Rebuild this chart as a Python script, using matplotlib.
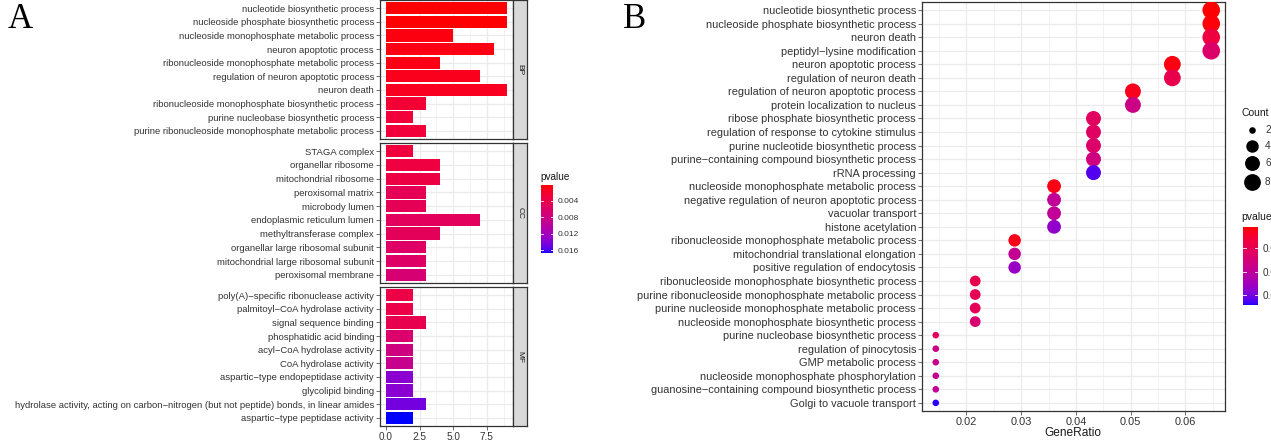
import numpy as np
import matplotlib
matplotlib.use("Agg")
import matplotlib.pyplot as plt
from matplotlib.colors import ListedColormap, Normalize
from matplotlib.lines import Line2D

# ---------------- data ----------------
bp_terms = ["nucleotide biosynthetic process", "nucleoside phosphate biosynthetic process",
            "nucleoside monophosphate metabolic process", "neuron apoptotic process",
            "ribonucleoside monophosphate metabolic process", "regulation of neuron apoptotic process",
            "neuron death", "ribonucleoside monophosphate biosynthetic process",
            "purine nucleobase biosynthetic process", "purine ribonucleoside monophosphate metabolic process"]
bp_counts = [9, 9, 5, 8, 4, 7, 9, 3, 2, 3]
bp_pvalues = [0.0002, 0.0002, 0.0005, 0.0007, 0.0008, 0.0011, 0.0013, 0.0024, 0.0028, 0.0028]

cc_terms = ["STAGA complex", "organellar ribosome", "mitochondrial ribosome", "peroxisomal matrix",
            "microbody lumen", "endoplasmic reticulum lumen", "methyltransferase complex",
            "organellar large ribosomal subunit", "mitochondrial large ribosomal subunit",
            "peroxisomal membrane"]
cc_counts = [2, 4, 4, 3, 3, 7, 4, 3, 3, 3]
cc_pvalues = [0.003, 0.0032, 0.0034, 0.0047, 0.0047, 0.0052, 0.0049, 0.0057, 0.0057, 0.0068]

mf_terms = ["poly(A)\u2212specific ribonuclease activity", "palmitoyl\u2212CoA hydrolase activity",
            "signal sequence binding", "phosphatidic acid binding", "acyl\u2212CoA hydrolase activity",
            "CoA hydrolase activity", "aspartic\u2212type endopeptidase activity", "glycolipid binding",
            "hydrolase activity, acting on carbon\u2212nitrogen (but not peptide) bonds, in linear amides",
            "aspartic\u2212type peptidase activity"]
mf_counts = [2, 2, 3, 2, 2, 2, 2, 2, 3, 2]
mf_pvalues = [0.0035, 0.0038, 0.0042, 0.0062, 0.0077, 0.0087, 0.0135, 0.0135, 0.0145, 0.0167]

a_plimits = [0.0001, 0.0167]
a_pticks = [0.004, 0.008, 0.012, 0.016]
a_xticks = [0.0, 2.5, 5.0, 7.5]
a_xticklabels = ["0.0", "2.5", "5.0", "7.5"]

b_terms = ["nucleotide biosynthetic process", "nucleoside phosphate biosynthetic process", "neuron death",
           "peptidyl\u2212lysine modification", "neuron apoptotic process", "regulation of neuron death",
           "regulation of neuron apoptotic process", "protein localization to nucleus",
           "ribose phosphate biosynthetic process", "regulation of response to cytokine stimulus",
           "purine nucleotide biosynthetic process", "purine\u2212containing compound biosynthetic process",
           "rRNA processing", "nucleoside monophosphate metabolic process",
           "negative regulation of neuron apoptotic process", "vacuolar transport", "histone acetylation",
           "ribonucleoside monophosphate metabolic process", "mitochondrial translational elongation",
           "positive regulation of endocytosis", "ribonucleoside monophosphate biosynthetic process",
           "purine ribonucleoside monophosphate metabolic process",
           "purine nucleoside monophosphate metabolic process",
           "nucleoside monophosphate biosynthetic process", "purine nucleobase biosynthetic process",
           "regulation of pinocytosis", "GMP metabolic process", "nucleoside monophosphate phosphorylation",
           "guanosine\u2212containing compound biosynthetic process", "Golgi to vacuole transport"]
b_generatio = [0.0647, 0.0647, 0.0647, 0.0647, 0.0576, 0.0576, 0.0504, 0.0504,
               0.0432, 0.0432, 0.0432, 0.0432, 0.0432, 0.0360, 0.0360, 0.0360, 0.0360,
               0.0288, 0.0288, 0.0288, 0.0216, 0.0216, 0.0216, 0.0216,
               0.0144, 0.0144, 0.0144, 0.0144, 0.0144, 0.0144]
b_counts = [9, 9, 9, 9, 8, 8, 7, 7, 6, 6, 6, 6, 6, 5, 5, 5, 5, 4, 4, 4, 3, 3, 3, 3, 2, 2, 2, 2, 2, 2]
b_pvalues = [0.0006, 0.0007, 0.0035, 0.0065, 0.001, 0.0045, 0.0015, 0.0085, 0.0058, 0.006, 0.0065, 0.0082,
             0.016, 0.0012, 0.0098, 0.0098, 0.0135, 0.0013, 0.0095, 0.013, 0.0045, 0.005, 0.0052,
             0.007, 0.0055, 0.0085, 0.009, 0.0095, 0.0095, 0.0168]
b_plimits = [0.0005, 0.0171]
b_pticks = [0.005, 0.010, 0.015]
b_xticks = [0.02, 0.03, 0.04, 0.05, 0.06]
b_xticklabels = ["0.02", "0.03", "0.04", "0.05", "0.06"]
count_breaks = [2, 4, 6, 8]
count_limits = [2, 9]

# ---------------- colour scale (red -> blue in CIELAB, like ggplot) ----------------
_M = np.array([[0.4124564, 0.3575761, 0.1804375],
               [0.2126729, 0.7151522, 0.0721750],
               [0.0193339, 0.1191920, 0.9503041]])
_Minv = np.linalg.inv(_M)
_white = _M @ np.ones(3)


def _to_lab(rgb):
    c = np.asarray(rgb, float)
    lin = np.where(c <= 0.04045, c / 12.92, ((c + 0.055) / 1.055) ** 2.4)
    xyz = (_M @ lin) / _white
    d = 6 / 29
    f = np.where(xyz > d ** 3, np.cbrt(xyz), xyz / (3 * d * d) + 4 / 29)
    return np.array([116 * f[1] - 16, 500 * (f[0] - f[1]), 200 * (f[1] - f[2])])


def _from_lab(lab):
    L, a, b = lab
    fy = (L + 16) / 116
    fx = fy + a / 500
    fz = fy - b / 200
    d = 6 / 29
    f = np.array([fx, fy, fz])
    xyz = np.where(f > d, f ** 3, 3 * d * d * (f - 4 / 29)) * _white
    lin = np.clip(_Minv @ xyz, 0, 1)
    return np.clip(np.where(lin <= 0.0031308, 12.92 * lin, 1.055 * lin ** (1 / 2.4) - 0.055), 0, 1)


_l0, _l1 = _to_lab([1, 0, 0]), _to_lab([0, 0, 1])
cmap = ListedColormap([_from_lab(_l0 + t * (_l1 - _l0)) for t in np.linspace(0, 1, 256)])

# ---------------- figure ----------------
W, H = 1271, 440
fig = plt.figure(figsize=(W / 100, H / 100), dpi=100)
plt.rcParams['font.family'] = ['Liberation Sans', 'DejaVu Sans']


def ax_px(l, t, r, b):
    return fig.add_axes([l / W, 1 - b / H, (r - l) / W, (b - t) / H])


TXT = "#333333"
BORDER = "#333333"
GRID = "#EBEBEB"

# ---------------- Panel A ----------------
a_norm = Normalize(a_plimits[0], a_plimits[1])
panels = [("BP", bp_terms, bp_counts, bp_pvalues, 0, 139),
          ("CC", cc_terms, cc_counts, cc_pvalues, 143, 283),
          ("MF", mf_terms, mf_counts, mf_pvalues, 287, 426)]
xmax_all = max(max(bp_counts), max(cc_counts), max(mf_counts))
for i, (strip, terms, counts, pv, top, bot) in enumerate(panels):
    ax = ax_px(380, top, 513, bot)
    n = len(terms)
    y = np.arange(n)
    ax.barh(y, counts, height=0.9, color=cmap(a_norm(np.array(pv))), zorder=3)
    ax.set_ylim(n - 0.4, -0.6)
    ax.set_xlim(-0.05 * xmax_all, xmax_all * 1.05)
    ax.set_yticks(y)
    ax.set_yticklabels(terms, fontsize=6.8, color=TXT)
    ax.set_xticks(a_xticks)
    ax.set_xticks([1.25, 3.75, 6.25, 8.75], minor=True)
    if i == 2:
        ax.set_xticklabels(a_xticklabels, fontsize=7.2, color=TXT)
    else:
        ax.set_xticklabels([])
    ax.tick_params(axis='both', which='major', length=2.75, width=0.5, color=BORDER, pad=1.5)
    ax.tick_params(axis='x', which='minor', length=0)
    if i != 2:
        ax.tick_params(axis='x', which='both', length=0)
    ax.grid(True, which='major', color=GRID, lw=0.9, zorder=0)
    ax.grid(True, which='minor', axis='x', color=GRID, lw=0.45, zorder=0)
    ax.set_axisbelow(True)
    for s in ax.spines.values():
        s.set_color(BORDER)
        s.set_linewidth(0.9)
    sax = ax_px(513, top, 527, bot)
    sax.set_facecolor("#D9D9D9")
    sax.set_xticks([])
    sax.set_yticks([])
    for s in sax.spines.values():
        s.set_color(BORDER)
        s.set_linewidth(0.9)
    sax.text(0.5, 0.5, strip, rotation=-90, ha='center', va='center', fontsize=6,
             color="#1A1A1A", transform=sax.transAxes)

# Panel A legend
fig.text(540 / W, 1 - 177 / H, "pvalue", fontsize=7.2, color="#1A1A1A", ha='left', va='center')
cax = ax_px(541, 185, 553, 253)
yy = np.linspace(a_plimits[0], a_plimits[1], 256)
cax.pcolormesh([0, 1], yy, yy[:-1, None], cmap=cmap, norm=a_norm, shading='flat')
cax.set_ylim(a_plimits[1], a_plimits[0])
cax.set_xlim(0, 1)
cax.set_xticks([])
cax.yaxis.tick_right()
cax.set_yticks(a_pticks)
cax.set_yticklabels([f"{t:.3f}" for t in a_pticks], fontsize=6, color=TXT)
cax.tick_params(axis='y', length=0, pad=3)
for t in a_pticks:
    cax.plot([0, 0.2], [t, t], color='white', lw=0.6)
    cax.plot([0.8, 1], [t, t], color='white', lw=0.6)
for s in cax.spines.values():
    s.set_visible(False)

# ---------------- Panel B ----------------
b_norm = Normalize(b_plimits[0], b_plimits[1])


def count_to_s(c):
    size = 3 + 5 * np.sqrt((np.asarray(c, float) - count_limits[0]) / (count_limits[1] - count_limits[0]))
    d_px = 2.2 * size
    return (d_px * 72 / 100) ** 2


bx = ax_px(922, 2, 1225, 411)
nb = len(b_terms)
yb = np.arange(nb)
bx.scatter(b_generatio, yb, s=count_to_s(b_counts), c=cmap(b_norm(np.array(b_pvalues))),
           linewidths=0, zorder=3)
bx.set_ylim(nb - 0.4, -0.6)
gmin, gmax = min(b_generatio), max(b_generatio)
span = gmax - gmin
bx.set_xlim(gmin - 0.05 * span, gmax + 0.05 * span)
bx.set_yticks(yb)
bx.set_yticklabels(b_terms, fontsize=7.9, color=TXT)
bx.set_xticks(b_xticks)
bx.set_xticklabels(b_xticklabels, fontsize=7.9, color=TXT)
bx.set_xticks([0.015, 0.025, 0.035, 0.045, 0.055, 0.065], minor=True)
bx.tick_params(axis='both', which='major', length=2.75, width=0.5, color=BORDER, pad=1.5)
bx.tick_params(axis='x', which='minor', length=0)
bx.grid(True, which='major', color=GRID, lw=0.9, zorder=0)
bx.grid(True, which='minor', axis='x', color=GRID, lw=0.45, zorder=0)
bx.set_axisbelow(True)
for s in bx.spines.values():
    s.set_color(BORDER)
    s.set_linewidth(0.9)
fig.text(1073 / W, 1 - 433 / H, "GeneRatio", fontsize=8.6, color="#1A1A1A", ha='center', va='center')

# Count legend
fig.text(1241 / W, 1 - 113 / H, "Count", fontsize=7.5, color="#1A1A1A", ha='left', va='center')
leg_y = [130, 146, 163, 182]
for c, yl in zip(count_breaks, leg_y):
    fig.add_artist(Line2D([1252 / W], [1 - yl / H], marker='o', linestyle='None',
                          markersize=np.sqrt(count_to_s(c)), color='black',
                          markeredgewidth=0, transform=fig.transFigure))
    fig.text(1265 / W, 1 - yl / H, str(c), fontsize=7.2, color=TXT, ha='left', va='center')

# pvalue legend B
fig.text(1241 / W, 1 - 217 / H, "pvalue", fontsize=7.5, color="#1A1A1A", ha='left', va='center')
cbx = ax_px(1243, 227, 1258, 305)
yy2 = np.linspace(b_plimits[0], b_plimits[1], 256)
cbx.pcolormesh([0, 1], yy2, yy2[:-1, None], cmap=cmap, norm=b_norm, shading='flat')
cbx.set_ylim(b_plimits[1], b_plimits[0])
cbx.set_xlim(0, 1)
cbx.set_xticks([])
cbx.yaxis.tick_right()
cbx.set_yticks(b_pticks)
cbx.set_yticklabels([f"{t:.3f}" for t in b_pticks], fontsize=7.2, color=TXT)
cbx.tick_params(axis='y', length=0, pad=3)
for t in b_pticks:
    cbx.plot([0, 0.2], [t, t], color='white', lw=0.6)
    cbx.plot([0.8, 1], [t, t], color='white', lw=0.6)
for s in cbx.spines.values():
    s.set_visible(False)

# panel letters
fig.text(8 / W, 1 - 20 / H, "A", fontsize=25, family=['Liberation Serif', 'DejaVu Serif'],
         ha='left', va='center', color='black')
fig.text(623 / W, 1 - 20 / H, "B", fontsize=25, family=['Liberation Serif', 'DejaVu Serif'],
         ha='left', va='center', color='black')

fig.savefig("out.png", dpi=100)
